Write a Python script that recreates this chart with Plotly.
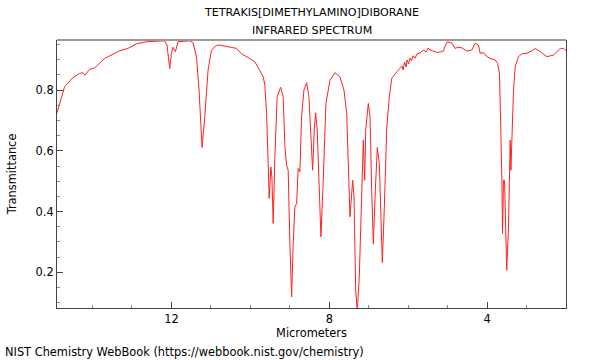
import plotly.graph_objects as go

# Wavelength (micrometers) and transmittance
micrometers = [
    14.904, 14.792, 14.708, 14.513, 14.328, 14.244, 14.193, 14.074, 13.947, 13.693,
    13.482, 13.312, 13.102, 12.888, 12.635, 12.297, 12.170, 12.112, 12.043, 12.000,
    11.960, 11.899, 11.833, 11.536, 11.452, 11.366, 11.300, 11.223, 11.155, 11.071,
    10.985, 10.858, 10.774, 10.350, 10.223, 10.013, 9.886, 9.759, 9.675, 9.632,
    9.589, 9.548, 9.523, 9.480, 9.454, 9.421, 9.378, 9.320, 9.234, 9.168,
    9.124, 9.081, 9.041, 8.998, 8.954, 8.914, 8.871, 8.827, 8.787, 8.744,
    8.701, 8.642, 8.574, 8.515, 8.465, 8.421, 8.381, 8.345, 8.305, 8.262,
    8.211, 8.152, 8.084, 7.982, 7.855, 7.729, 7.627, 7.558, 7.518, 7.475,
    7.406, 7.373, 7.330, 7.289, 7.239, 7.178, 7.137, 7.102, 7.076, 7.010,
    6.967, 6.924, 6.883, 6.832, 6.782, 6.731, 6.695, 6.655, 6.604, 6.543,
    6.477, 6.416, 6.289, 6.206, 6.155, 6.129, 6.091, 6.053, 6.028, 5.990,
    5.952, 5.914, 5.876, 5.825, 5.774, 5.698, 5.614, 5.546, 5.495, 5.444,
    5.368, 5.274, 5.190, 5.107, 5.064, 5.005, 4.893, 4.810, 4.734, 4.640,
    4.513, 4.386, 4.302, 4.218, 4.175, 4.091, 4.023, 3.921, 3.794, 3.736,
    3.685, 3.650, 3.624, 3.609, 3.584, 3.558, 3.541, 3.503, 3.457, 3.414,
    3.396, 3.371, 3.330, 3.287, 3.203, 3.117, 2.990, 2.881, 2.779, 2.652,
    2.482, 2.315, 2.195, 2.145, 2.061, 1.992,
]
transmittance = [
    0.723, 0.778, 0.811, 0.839, 0.855, 0.857, 0.849, 0.868, 0.873, 0.904,
    0.919, 0.929, 0.937, 0.952, 0.959, 0.962, 0.962, 0.948, 0.871, 0.921,
    0.941, 0.926, 0.959, 0.962, 0.956, 0.910, 0.800, 0.611, 0.712, 0.866,
    0.932, 0.947, 0.948, 0.937, 0.919, 0.904, 0.893, 0.864, 0.844, 0.816,
    0.723, 0.558, 0.443, 0.547, 0.514, 0.361, 0.580, 0.778, 0.809, 0.778,
    0.613, 0.553, 0.536, 0.295, 0.119, 0.295, 0.415, 0.427, 0.542, 0.531,
    0.712, 0.800, 0.824, 0.778, 0.635, 0.536, 0.668, 0.725, 0.668, 0.470,
    0.317, 0.503, 0.756, 0.833, 0.857, 0.844, 0.800, 0.723, 0.558, 0.383,
    0.503, 0.448, 0.141, 0.075, 0.185, 0.470, 0.635, 0.503, 0.668, 0.756,
    0.712, 0.470, 0.293, 0.470, 0.611, 0.558, 0.361, 0.232, 0.415, 0.675,
    0.778, 0.839, 0.860, 0.871, 0.879, 0.866, 0.892, 0.876, 0.899, 0.886,
    0.905, 0.896, 0.913, 0.905, 0.919, 0.922, 0.932, 0.925, 0.938, 0.932,
    0.928, 0.924, 0.925, 0.928, 0.945, 0.959, 0.954, 0.937, 0.941, 0.939,
    0.928, 0.932, 0.954, 0.948, 0.921, 0.923, 0.912, 0.904, 0.899, 0.888,
    0.855, 0.690, 0.503, 0.328, 0.503, 0.503, 0.415, 0.207, 0.350, 0.635,
    0.536, 0.635, 0.800, 0.877, 0.910, 0.919, 0.921, 0.928, 0.937, 0.926,
    0.910, 0.915, 0.932, 0.937, 0.937, 0.929,
]

title_lines = ["TETRAKIS[DIMETHYLAMINO]DIBORANE", "INFRARED SPECTRUM"]
x_ticks = [12, 8, 4]
y_ticks = [0.2, 0.4, 0.6, 0.8]
footer = "NIST Chemistry WebBook (https://webbook.nist.gov/chemistry)"

FONT = "DejaVu Sans"
FS = 11.4
AXIS_COLOR = "#444444"

fig = go.Figure()
fig.add_trace(go.Scatter(
    x=micrometers, y=transmittance, mode="lines",
    line=dict(color="#ff2020", width=1), hoverinfo="skip", showlegend=False,
))

fig.update_layout(
    width=600, height=360,
    margin=dict(l=57, r=34, t=40, b=52, autoexpand=False),
    paper_bgcolor="white", plot_bgcolor="white",
    font=dict(family=FONT, size=FS, color="black"),
    showlegend=False,
)

fig.update_xaxes(
    range=[14.9, 2.0], showgrid=False, zeroline=False, automargin=False,
    showline=True, linecolor=AXIS_COLOR, linewidth=1, mirror=False,
    tickmode="array", tickvals=x_ticks, ticktext=[str(v) for v in x_ticks],
    ticks="inside", ticklen=6, tickcolor=AXIS_COLOR, tickwidth=1,
    minor=dict(dtick=1, ticks="inside", ticklen=3, tickcolor="#888888", tickwidth=1, tick0=0),
    title=dict(text="Micrometers", standoff=2, font=dict(size=FS)),
    tickfont=dict(size=FS),
)
fig.update_yaxes(
    range=[0.0827, 0.9647], showgrid=False, zeroline=False, automargin=False,
    showline=True, linecolor=AXIS_COLOR, linewidth=1, mirror=True,
    tickmode="array", tickvals=y_ticks, ticktext=[str(v) for v in y_ticks],
    ticks="inside", ticklen=6, tickcolor=AXIS_COLOR, tickwidth=1,
    minor=dict(dtick=0.05, tick0=0, ticks="inside", ticklen=3, tickcolor="#888888", tickwidth=1),
    title=dict(text="Transmittance", standoff=16, font=dict(size=FS)),
    tickfont=dict(size=FS),
)

# top frame line (lighter gray)
fig.add_shape(type="line", xref="paper", yref="paper", x0=0, x1=1, y0=1, y1=1,
              line=dict(color="#9a9a9a", width=2))

# two-line title
fig.add_annotation(text=title_lines[0], xref="paper", yref="paper",
                   x=0.5, y=1.101, xanchor="center", yanchor="middle",
                   showarrow=False, font=dict(family=FONT, size=11.1))
fig.add_annotation(text=title_lines[1], xref="paper", yref="paper",
                   x=0.5, y=1.037, xanchor="center", yanchor="middle",
                   showarrow=False, font=dict(family=FONT, size=11.1))

fig.add_annotation(text=footer, xref="paper", yref="paper",
                   x=-0.106, y=-0.166, xanchor="left", yanchor="middle",
                   showarrow=False, font=dict(family=FONT, size=FS))

fig.write_html("out.html", config={"displayModeBar": False},
               post_script="document.body.style.margin='0';")
